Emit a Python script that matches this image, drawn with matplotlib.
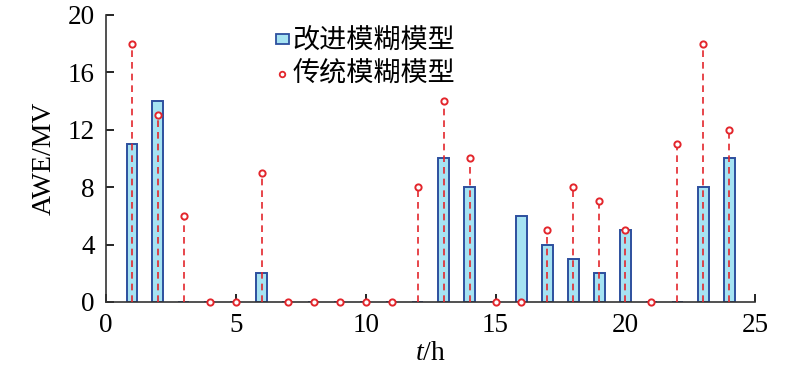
import matplotlib.pyplot as plt
from matplotlib.patches import Patch
from matplotlib.lines import Line2D

hours = list(range(1, 25))
improved = [11, 14, 0, 0, 0, 2, 0, 0, 0, 0, 0, 0,
            10, 8, 0, 6, 4, 3, 2, 5, 0, 0, 8, 10]
traditional = [18, 13, 6, 0, 0, 9, 0, 0, 0, 0, 0, 8,
               14, 10, 0, 0, 5, 8, 7, 5, 0, 11, 18, 12]
x_ticks = [0, 5, 10, 15, 20, 25]
y_ticks = [0, 4, 8, 12, 16, 20]

serif = ['Liberation Serif', 'DejaVu Serif']
cjk = ['Noto Sans CJK SC', 'DejaVu Sans']
red = '#e3262c'

plt.rcParams['mathtext.fontset'] = 'custom'
plt.rcParams['mathtext.it'] = 'Liberation Serif:italic'
plt.rcParams['mathtext.rm'] = 'Liberation Serif'

fig = plt.figure(figsize=(8, 3.71), dpi=100)
ax = fig.add_axes([0.1325, 0.186, 0.8115, 0.774])

ax.bar(hours, improved, width=0.42, color='#a6e3f2', edgecolor='#2d4f9e',
       linewidth=1.4, zorder=2)
ax.vlines(hours, 0, traditional, colors=red, linestyles=(0, (4, 3)),
          linewidth=1.2, zorder=3)
ax.plot(hours, traditional, 'o', color=red, markerfacecolor='white',
        markeredgewidth=1.4, markersize=4.5, linestyle='none', zorder=4,
        clip_on=False)

ax.set_xlim(0, 25)
ax.set_ylim(0, 20)
ax.set_xticks(x_ticks)
ax.set_yticks(y_ticks)
ax.spines['top'].set_visible(False)
ax.spines['right'].set_visible(False)
for s in ['left', 'bottom']:
    ax.spines[s].set_linewidth(1.2)
    ax.spines[s].set_color('#333333')
ax.tick_params(direction='in', length=6, width=1.2, labelsize=19.5)
ax.tick_params(axis='y', pad=8)
ax.tick_params(axis='x', pad=8)
for lab in ax.get_xticklabels() + ax.get_yticklabels():
    lab.set_family(serif)

ax.set_ylabel('AWE/MV', fontsize=20, family=serif, labelpad=8)
ax.set_xlabel('$t$/h', fontsize=20, family=serif, labelpad=2)

handles = [Patch(facecolor='#a6e3f2', edgecolor='#2d4f9e', linewidth=1.3),
           Line2D([], [], marker='o', color=red, markerfacecolor='white',
                  markeredgewidth=1.3, markersize=4, linestyle='none')]
ax.legend(handles, ['改进模糊模型', '传统模糊模型'], loc='upper left',
          bbox_to_anchor=(0.262, 0.955), frameon=False, borderpad=0,
          borderaxespad=0, prop={'family': cjk, 'size': 19.5},
          handlelength=0.47, handleheight=0.22, handletextpad=0.15,
          labelspacing=0.2)

fig.savefig('out.png', dpi=100)
